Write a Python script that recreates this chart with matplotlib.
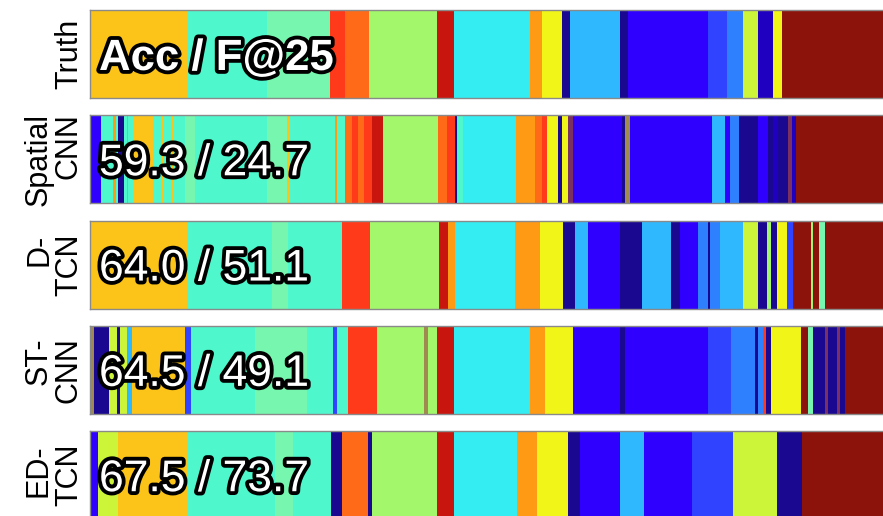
import matplotlib
matplotlib.use("Agg")
import matplotlib.pyplot as plt
import matplotlib.patheffects as pe

# class label -> colour
palette = {
    "gold": "#FCC418", "aqua": "#4FF7CC", "mint": "#76F6AE", "red": "#FF3A1A",
    "orange_red": "#FF6A18", "lime": "#A3F76A", "crimson": "#C8160E",
    "cyan": "#33EDF2", "orange": "#FF9A14", "yellow": "#F2F518",
    "navy": "#1A0890", "sky": "#30B8FF", "violet": "#3000FF", "blue": "#3044FF",
    "azure": "#2E80FF", "chartreuse": "#CCF53A", "indigo": "#2000C0",
    "maroon": "#8C120C", "tan": "#A08A50", "plum": "#7A3060",
}

n_frames = 800

# segment start frames and labels for each sequence
truth_starts = [0, 98, 177, 240, 255, 279, 347, 364, 440, 452, 472, 480, 530,
                538, 618, 637, 653, 668, 683, 692]
truth_labels = ["gold", "aqua", "mint", "red", "orange_red", "lime", "crimson",
                "cyan", "orange", "yellow", "navy", "sky", "navy", "violet",
                "blue", "azure", "chartreuse", "indigo", "yellow", "maroon"]

spatial_starts = [0, 11, 23, 26, 28, 34, 37, 38, 44, 63, 72, 74, 82, 84, 95,
                  105, 177, 197, 199, 245, 247, 255, 262, 268, 274, 282, 293,
                  348, 357, 365, 367, 373, 426, 445, 452, 457, 468, 472, 478,
                  483, 532, 535, 540, 622, 635, 640, 649, 668, 678, 683, 688,
                  698, 702, 706]
spatial_labels = ["violet", "aqua", "orange", "aqua", "navy", "aqua", "orange",
                  "aqua", "gold", "aqua", "gold", "aqua", "gold", "aqua", "mint",
                  "aqua", "mint", "gold", "aqua", "orange", "aqua", "orange_red",
                  "red", "orange_red", "red", "crimson", "lime", "orange_red",
                  "red", "navy", "aqua", "cyan", "orange", "orange_red", "red",
                  "yellow", "navy", "yellow", "plum", "violet", "navy", "tan",
                  "violet", "sky", "violet", "azure", "navy", "violet", "navy",
                  "indigo", "navy", "plum", "indigo", "maroon"]

dtcn_starts = [0, 97, 182, 198, 252, 280, 349, 358, 365, 425, 450, 473, 485,
               498, 530, 552, 581, 590, 608, 618, 620, 630, 653, 668, 677, 681,
               687, 697, 703, 721, 723, 729, 735]
dtcn_labels = ["gold", "aqua", "mint", "aqua", "red", "lime", "crimson", "orange",
               "cyan", "orange", "yellow", "navy", "sky", "violet", "navy", "sky",
               "navy", "violet", "azure", "navy", "azure", "sky", "chartreuse",
               "navy", "lime", "navy", "yellow", "blue", "maroon", "lime",
               "maroon", "mint", "maroon"]

stcnn_starts = [0, 4, 19, 27, 30, 37, 42, 95, 101, 165, 217, 243, 247, 258, 287,
                334, 338, 347, 364, 440, 455, 483, 530, 535, 618, 641, 665, 668,
                673, 676, 681, 711, 718, 723, 735, 738, 747, 750, 755]
stcnn_labels = ["tan", "navy", "chartreuse", "navy", "chartreuse", "sky", "gold",
                "blue", "aqua", "mint", "aqua", "blue", "aqua", "red", "lime",
                "tan", "lime", "crimson", "cyan", "orange", "yellow", "violet",
                "navy", "violet", "blue", "azure", "navy", "azure", "red", "navy",
                "yellow", "maroon", "mint", "navy", "plum", "navy", "plum",
                "navy", "maroon"]

edtcn_starts = [0, 8, 28, 98, 185, 203, 241, 252, 278, 282, 347, 364, 427, 447,
                478, 490, 530, 554, 602, 643, 687, 712]
edtcn_labels = ["violet", "chartreuse", "gold", "aqua", "mint", "aqua", "navy",
                "orange_red", "navy", "lime", "crimson", "cyan", "orange",
                "yellow", "navy", "violet", "sky", "violet", "blue", "chartreuse",
                "navy", "maroon"]

row_names = ["Truth", "Spatial\nCNN", "D-\nTCN", "ST-\nCNN", "ED-\nTCN"]
scores = ["Acc / F@25", "59.3 / 24.7", "64.0 / 51.1", "64.5 / 49.1", "67.5 / 73.7"]
rows = [(truth_starts, truth_labels), (spatial_starts, spatial_labels),
        (dtcn_starts, dtcn_labels), (stcnn_starts, stcnn_labels),
        (edtcn_starts, edtcn_labels)]

W, H = 883, 516
fig = plt.figure(figsize=(W / 100, H / 100), dpi=100)
plt.rcParams["font.family"] = ["Liberation Sans", "DejaVu Sans"]

left_px, row_h, pitch, top0 = 90, 88, 105.3, 10

for i, ((starts, labels), name, score) in enumerate(zip(rows, row_names, scores)):
    top = top0 + pitch * i
    ax = fig.add_axes([left_px / W, 1 - (top + row_h) / H, 820 / W, row_h / H])
    ends = starts[1:] + [n_frames]
    segs = [(s, e - s) for s, e in zip(starts, ends)]
    ax.broken_barh(segs, (0, 1), facecolors=[palette[l] for l in labels],
                   edgecolor="none")
    ax.set_xlim(0, 820)
    ax.set_ylim(0, 1)
    ax.set_xticks([])
    ax.set_yticks([])
    for sp in ax.spines.values():
        sp.set_color("#8a8a8a")
        sp.set_linewidth(1.0)

    ax.text(9, 0.5, score, ha="left", va="center_baseline", color="white",
            fontsize=31.5 if i == 0 else 32,
            fontweight="bold" if i == 0 else "normal",
            path_effects=[pe.withStroke(linewidth=5.5, foreground="black")])

    # rotated row label, right edge sits just left of the bar
    fig.text(84 / W, 1 - (top + row_h / 2) / H, name,
             rotation=90, ha="right", va="center", fontsize=22,
             linespacing=1.0, color="black")

fig.savefig("out.png", dpi=100)
